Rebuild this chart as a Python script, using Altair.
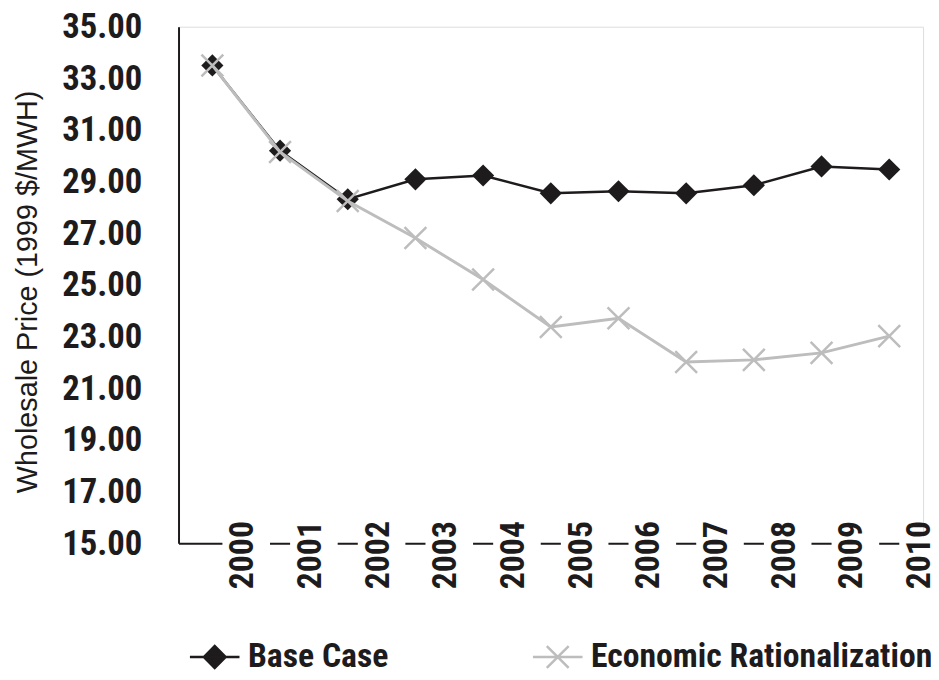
import altair as alt
import pandas as pd

years = ["2000", "2001", "2002", "2003", "2004", "2005", "2006", "2007", "2008", "2009", "2010"]
base_case = [33.50, 30.20, 28.32, 29.09, 29.24, 28.55, 28.63, 28.55, 28.86, 29.59, 29.47]
econ_rat = [33.50, 30.15, 28.25, 26.82, 25.21, 23.37, 23.71, 22.02, 22.10, 22.37, 23.02]
series_names = ["Base Case", "Economic Rationalization"]
y_ticks = [15, 17, 19, 21, 23, 25, 27, 29, 31, 33, 35]

BLACK = "#1e1b1c"
GRAY = "#bdbdbd"
NARROW = "Roboto Condensed, Roboto, sans-serif"
REG = "Liberation Sans, Arial, sans-serif"

rows = []
for s, vals in zip(series_names, [base_case, econ_rat]):
    for i, (yr, v) in enumerate(zip(years, vals)):
        rows.append({"idx": i, "year": yr, "series": s, "value": v})
df = pd.DataFrame(rows)
years_df = pd.DataFrame({"idx": list(range(len(years))), "year": years})

x_enc = alt.X(
    "idx:Q",
    scale=alt.Scale(domain=[-0.5, len(years) - 0.5], nice=False, zero=False),
    axis=alt.Axis(labels=False, ticks=False, grid=False, title=None,
                  domainColor=BLACK, domainWidth=2, zindex=0),
)
y_enc = alt.Y(
    "value:Q",
    scale=alt.Scale(domain=[15, 35], nice=False, zero=False),
    axis=alt.Axis(
        values=y_ticks, format=".2f", ticks=False,
        labelFont=NARROW, labelFontSize=35, labelFontWeight="bold", labelColor=BLACK,
        labelPadding=37, domainColor=BLACK, domainWidth=2,
        gridColor="#333333", gridWidth=1,
        title="Wholesale Price (1999 $/MWH)", titleFont=REG, titleFontSize=29,
        titleFontWeight="normal", titleColor=BLACK, titleAngle=-90,
        titleX=-152, titleY=267, titleAlign="center", titleBaseline="middle",
        zindex=0,
    ),
)

base = alt.Chart(df)

base_line = base.transform_filter(alt.datum.series == "Base Case").mark_line(
    color=BLACK, strokeWidth=2.5).encode(x=x_enc, y=y_enc)
base_pts = base.transform_filter(alt.datum.series == "Base Case").mark_point(
    shape="diamond", filled=True, color=BLACK, size=500, opacity=1).encode(x=x_enc, y=y_enc)
er_line = base.transform_filter(alt.datum.series == "Economic Rationalization").mark_line(
    color=GRAY, strokeWidth=3).encode(x=x_enc, y=y_enc)
er_pts = base.transform_filter(alt.datum.series == "Economic Rationalization").mark_point(
    shape="M-1,-1L1,1M-1,1L1,-1", filled=False, color=GRAY, strokeWidth=2.5,
    size=484, opacity=1).encode(x=x_enc, y=y_enc)

legend_layer = base.transform_filter("false").mark_point(filled=True, opacity=1, size=2500).encode(
    x=x_enc, y=y_enc,
    fill=alt.Fill("series:N", scale=alt.Scale(domain=series_names, range=[BLACK, "transparent"]),
                  legend=alt.Legend(
                      title=None, orient="none", legendX=10, legendY=609,
                      direction="horizontal", symbolSize=2500, symbolStrokeWidth=2.5,
                      labelFont=NARROW, labelFontSize=34, labelFontWeight="bold",
                      labelColor=BLACK, labelLimit=500, labelOffset=7, columnPadding=140,
                      padding=0, symbolOpacity=1)),
    stroke=alt.Stroke("series:N", scale=alt.Scale(domain=series_names, range=[BLACK, GRAY])),
    shape=alt.Shape("series:N", scale=alt.Scale(
        domain=series_names,
        range=["M-1,0L1,0M-0.44,0L0,-0.44L0.44,0L0,0.44Z",
               "M-1,0L1,0M-0.44,-0.44L0.44,0.44M-0.44,0.44L0.44,-0.44"])),
)

lab_base = alt.Chart(years_df).transform_calculate(pos="datum.idx + 0.5")
label_bg = lab_base.mark_point(
    shape="M-1,-0.25L1,-0.25L1,0.25L-1,0.25Z", filled=True, color="white",
    size=2304, opacity=1).encode(x=alt.X("pos:Q"), y=alt.datum(15))
label_txt = lab_base.mark_text(
    angle=270, align="center", baseline="middle", dx=-12, dy=-3,
    font=NARROW, fontSize=34, fontWeight="bold", color=BLACK).encode(
    x=alt.X("pos:Q"), y=alt.datum(15), text="year:N")

chart = alt.layer(
    label_bg, label_txt, base_line, base_pts, er_line, er_pts, legend_layer
).properties(
    width=751, height=521,
    autosize=alt.AutoSizeParams(type="none"),
    padding={"left": 172, "top": 16, "right": 8, "bottom": 127},
).configure_view(stroke=None).configure(background="white")

chart.save("out.html", embed_options={"renderer": "svg", "actions": False})
